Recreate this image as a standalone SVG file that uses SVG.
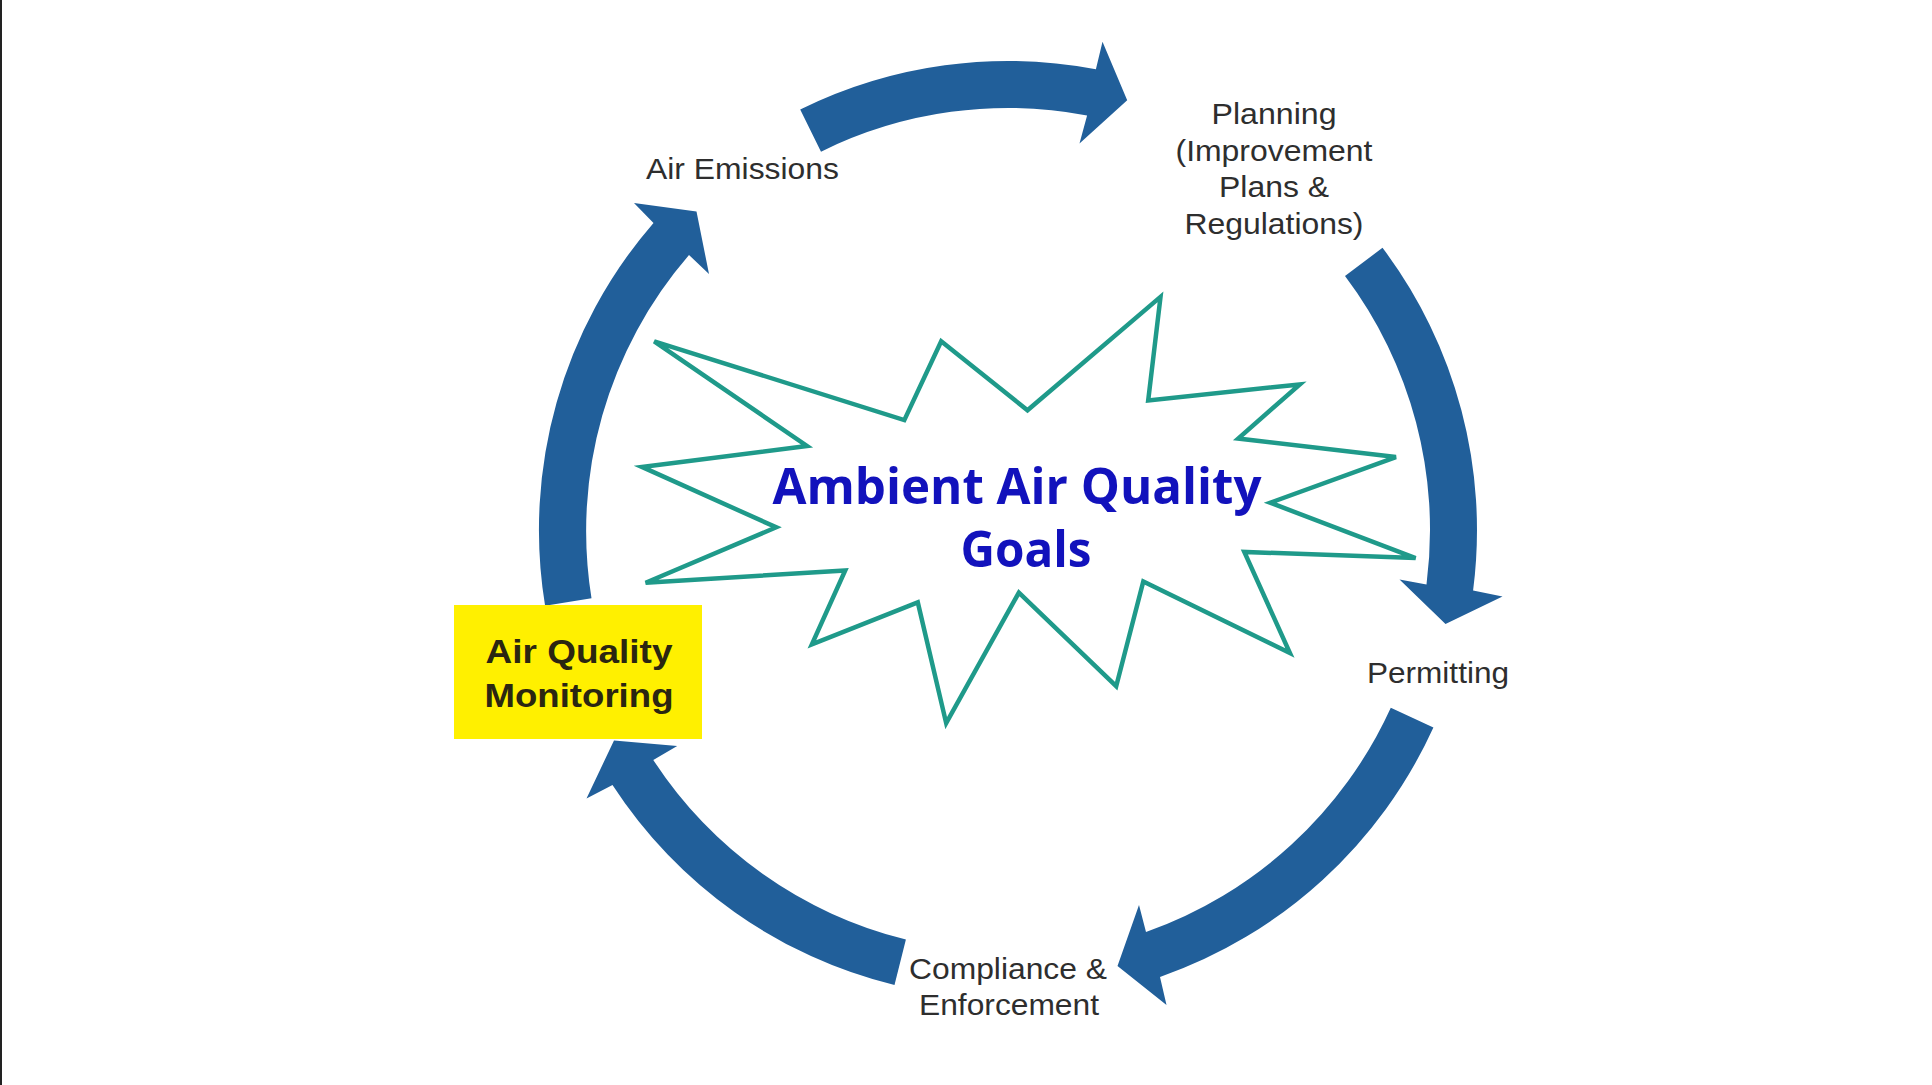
<svg xmlns="http://www.w3.org/2000/svg" width="1932" height="1085" viewBox="0 0 1932 1085">
  <style>
    .arrow { fill: #215f9a; stroke: none; }
    .label { font-family: "Liberation Sans", Arial, sans-serif; font-size: 29px; fill: #2e2e2e; }
    .boxlabel { font-family: "Liberation Sans", Arial, sans-serif; font-size: 33px; font-weight: bold; fill: #2b2611; }
    .goal { font-family: "Open Sans", "DejaVu Sans", sans-serif; font-size: 51px; font-weight: bold; fill: #1212bc; }
    .burst { fill: #ffffff; stroke: #1f9a8a; stroke-width: 4.5; stroke-linejoin: miter; }
  </style>
  <rect x="0" y="0" width="1932" height="1085" fill="#ffffff"/>
  <rect x="0" y="0" width="2" height="1085" fill="#222222"/>

  <g id="connectors">
    <path class="arrow" d="M800.2,109.5 A469,469 0 0 1 1095.9,69.3 L1102.5,41.8 L1127.2,100.2 L1079.5,143.5 L1087.1,115.5 A422,422 0 0 0 821.0,151.7 Z"/>
    <path class="arrow" d="M1382.5,247.8 A469,469 0 0 1 1473.1,590.4 L1502.5,596.5 L1445.5,624 L1399.5,579.5 L1426.5,584.4 A422,422 0 0 0 1345.0,276.0 Z"/>
    <path class="arrow" d="M1433.4,727.4 A470,470 0 0 1 1160,977 L1166.5,1005 L1117.5,966 L1139,905 L1146,932 A424,424 0 0 0 1390.8,707.7 Z"/>
    <path class="arrow" d="M894.5,985.1 A469,469 0 0 1 612.5,785 L586.5,798.5 L614,740.5 L677.2,746 L653.3,760 A422,422 0 0 0 905.9,939.5 Z"/>
    <path class="arrow" d="M545.1,605.8 A469,469 0 0 1 653.5,222.9 L634,203 L696.5,211.5 L709,274 L689.0,255 A422,422 0 0 0 591.5,598.2 Z"/>
  </g>

  <g id="node-goals">
    <polygon class="burst" points="654.2,341.3 807.0,446.0 641.9,466.9 776.2,527.3 645.6,582.7 845.2,570.4 811.9,644.3 917.8,602.4 946.2,723.2 1018.9,592.6 1116.2,686.2 1143.3,581.5 1289.9,653.0 1244.3,551.9 1415.6,558.1 1270.2,502.7 1395.9,457.1 1238.2,438.6 1299.8,384.4 1148.2,400.4 1160.5,296.9 1027.5,410.3 941.2,341.3 904.3,420.1"/>
    <text class="goal" x="1017" y="504" text-anchor="middle" textLength="489" lengthAdjust="spacingAndGlyphs">Ambient Air Quality</text>
    <text class="goal" x="1026" y="567" text-anchor="middle" textLength="131" lengthAdjust="spacingAndGlyphs">Goals</text>
  </g>

  <g id="node-air-emissions">
    <text class="label" x="646" y="179" textLength="193" lengthAdjust="spacingAndGlyphs">Air Emissions</text>
  </g>

  <g id="node-planning">
    <text class="label" x="1274" y="124" text-anchor="middle" textLength="125" lengthAdjust="spacingAndGlyphs">Planning</text>
    <text class="label" x="1274" y="161" text-anchor="middle" textLength="197" lengthAdjust="spacingAndGlyphs">(Improvement</text>
    <text class="label" x="1274" y="197" text-anchor="middle" textLength="110" lengthAdjust="spacingAndGlyphs">Plans &amp;</text>
    <text class="label" x="1274" y="234" text-anchor="middle" textLength="179" lengthAdjust="spacingAndGlyphs">Regulations)</text>
  </g>

  <g id="node-permitting">
    <text class="label" x="1438" y="683" text-anchor="middle" textLength="142" lengthAdjust="spacingAndGlyphs">Permitting</text>
  </g>

  <g id="node-compliance">
    <text class="label" x="1008" y="979" text-anchor="middle" textLength="198" lengthAdjust="spacingAndGlyphs">Compliance &amp;</text>
    <text class="label" x="1009" y="1015" text-anchor="middle" textLength="180" lengthAdjust="spacingAndGlyphs">Enforcement</text>
  </g>

  <g id="node-monitoring">
    <rect x="454" y="605" width="248" height="134" fill="#fff000"/>
    <text class="boxlabel" x="579" y="663" text-anchor="middle" textLength="187" lengthAdjust="spacingAndGlyphs">Air Quality</text>
    <text class="boxlabel" x="579" y="707" text-anchor="middle" textLength="189" lengthAdjust="spacingAndGlyphs">Monitoring</text>
  </g>
</svg>
